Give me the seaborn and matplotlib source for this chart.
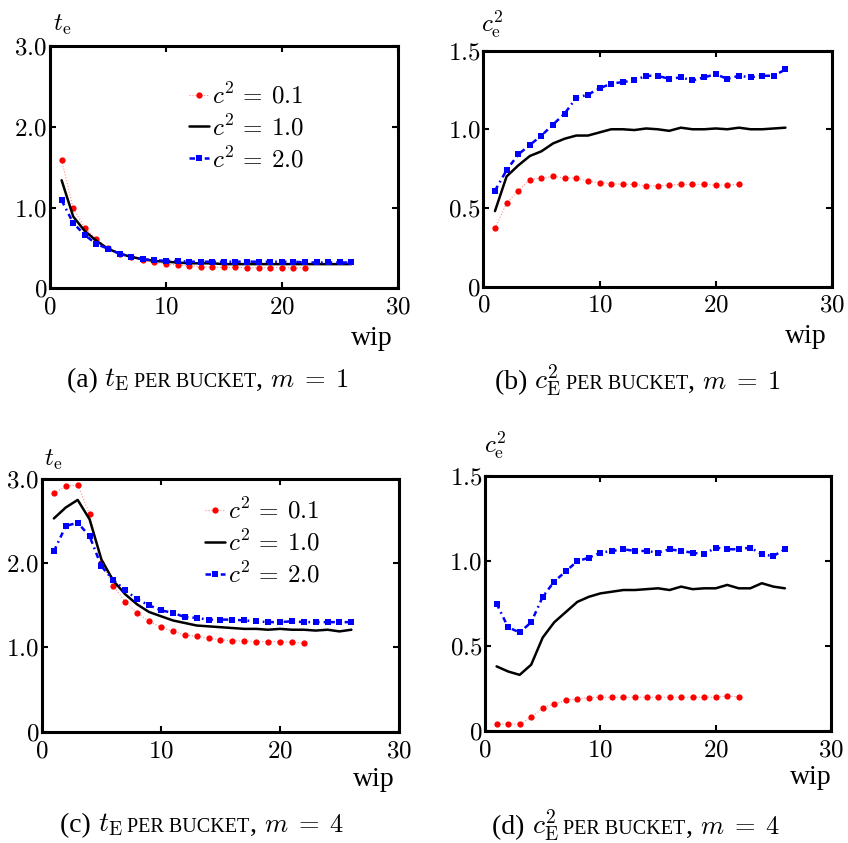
import numpy as np
import pandas as pd
import seaborn as sns
import matplotlib.pyplot as plt
from matplotlib.offsetbox import TextArea, HPacker, AnchoredOffsetbox

# ---- data ----
wip_short = list(range(1, 23))
wip_long = list(range(1, 27))

# (a) t_e, m = 1
te_m1_c01 = [1.59, 0.99, 0.75, 0.61, 0.50, 0.43, 0.39, 0.35, 0.32, 0.30, 0.29,
             0.28, 0.27, 0.26, 0.26, 0.26, 0.255, 0.255, 0.255, 0.255, 0.255, 0.255]
te_m1_c10 = [1.34, 0.89, 0.71, 0.59, 0.49, 0.43, 0.39, 0.36, 0.34, 0.33, 0.32, 0.31, 0.31,
             0.31, 0.30, 0.30, 0.30, 0.30, 0.30, 0.30, 0.30, 0.30, 0.30, 0.30, 0.30, 0.30]
te_m1_c20 = [1.09, 0.81, 0.66, 0.55, 0.49, 0.43, 0.39, 0.36, 0.35, 0.34, 0.34, 0.33, 0.33,
             0.33, 0.33, 0.33, 0.33, 0.33, 0.33, 0.33, 0.33, 0.32, 0.32, 0.32, 0.32, 0.32]

# (b) c_e^2, m = 1
ce_m1_c01 = [0.37, 0.53, 0.61, 0.68, 0.69, 0.70, 0.69, 0.69, 0.67, 0.66, 0.655,
             0.65, 0.65, 0.64, 0.64, 0.645, 0.65, 0.65, 0.65, 0.645, 0.645, 0.65]
ce_m1_c10 = [0.48, 0.70, 0.77, 0.83, 0.86, 0.91, 0.94, 0.96, 0.96, 0.98, 1.00, 1.00, 0.995,
             1.005, 1.00, 0.99, 1.01, 1.00, 1.00, 1.005, 1.00, 1.01, 1.00, 1.00, 1.005, 1.01]
ce_m1_c20 = [0.61, 0.74, 0.84, 0.90, 0.96, 1.03, 1.10, 1.20, 1.22, 1.26, 1.29, 1.30, 1.31,
             1.34, 1.34, 1.32, 1.33, 1.31, 1.33, 1.35, 1.32, 1.34, 1.33, 1.34, 1.34, 1.38]

# (c) t_e, m = 4
te_m4_c01 = [2.83, 2.91, 2.93, 2.58, 2.00, 1.73, 1.54, 1.41, 1.31, 1.24, 1.19,
             1.15, 1.13, 1.11, 1.09, 1.08, 1.075, 1.07, 1.07, 1.07, 1.06, 1.05]
te_m4_c10 = [2.53, 2.66, 2.75, 2.52, 2.04, 1.79, 1.63, 1.51, 1.42, 1.37, 1.32, 1.29, 1.26,
             1.25, 1.24, 1.23, 1.22, 1.22, 1.21, 1.22, 1.21, 1.21, 1.20, 1.21, 1.19, 1.21]
te_m4_c20 = [2.14, 2.44, 2.48, 2.32, 1.96, 1.80, 1.68, 1.57, 1.50, 1.44, 1.41, 1.36, 1.35,
             1.33, 1.33, 1.33, 1.32, 1.31, 1.30, 1.30, 1.31, 1.30, 1.30, 1.30, 1.30, 1.30]

# (d) c_e^2, m = 4
ce_m4_c01 = [0.04, 0.04, 0.04, 0.08, 0.135, 0.16, 0.18, 0.19, 0.195, 0.198, 0.198,
             0.198, 0.198, 0.198, 0.198, 0.198, 0.198, 0.198, 0.198, 0.198, 0.205, 0.20]
ce_m4_c10 = [0.38, 0.35, 0.33, 0.39, 0.55, 0.64, 0.70, 0.76, 0.79, 0.81, 0.82, 0.83, 0.83,
             0.835, 0.84, 0.83, 0.85, 0.835, 0.84, 0.84, 0.86, 0.84, 0.84, 0.87, 0.85, 0.84]
ce_m4_c20 = [0.75, 0.61, 0.58, 0.64, 0.79, 0.88, 0.94, 1.00, 1.02, 1.05, 1.06, 1.07, 1.06,
             1.06, 1.05, 1.07, 1.06, 1.05, 1.04, 1.08, 1.07, 1.07, 1.08, 1.04, 1.03, 1.07]

series_labels = [r"$c^2\,=\:0.1$", r"$c^2\,=\:1.0$", r"$c^2\,=\:2.0$"]
xticks = [0, 10, 20, 30]
xticklabels = ["$0$", "$10$", "$20$", "$30$"]
te_ticks = [0, 1, 2, 3]
te_ticklabels = ["$0$", "$1.0$", "$2.0$", "$3.0$"]
ce_ticks = [0, 0.5, 1.0, 1.5]
ce_ticklabels = ["$0$", "$0.5$", "$1.0$", "$1.5$"]

sns.set_style("ticks")
plt.rcParams['font.family'] = ['Liberation Serif', 'DejaVu Serif']
plt.rcParams['mathtext.fontset'] = 'cm'
plt.rcParams['text.color'] = 'black'
plt.rcParams['xtick.color'] = 'black'
plt.rcParams['ytick.color'] = 'black'
plt.rcParams['axes.edgecolor'] = 'black'

fig = plt.figure(figsize=(8.48, 8.43), dpi=100)

FS = 18


def draw_panel(rect, c01, c10, c20, yticks, yticklabels, ylabel, with_legend, leg_anchor,
               ylab_pos, wip_pos):
    ax = fig.add_axes(rect)
    sns.lineplot(x=wip_short, y=c01, ax=ax, color="red", linestyle=":", lw=0.8,
                 marker="o", markersize=4.5, markeredgewidth=0,
                 estimator=None, label=series_labels[0])
    ax.lines[-1].set_color((1.0, 0.55, 0.55))
    ax.lines[-1].set_markerfacecolor("red")
    sns.lineplot(x=wip_long, y=c10, ax=ax, color="black", linestyle="-", lw=1.8,
                 estimator=None, label=series_labels[1])
    sns.lineplot(x=wip_long, y=c20, ax=ax, color="blue", linestyle=(0, (2.2, 1.6, 0.7, 1.6)),
                 lw=1.8, marker="s", markersize=4.5, markeredgewidth=0,
                 estimator=None, label=series_labels[2])
    ax.set_xlim(0, 30)
    ax.set_ylim(yticks[0], yticks[-1])
    ax.set_xticks(xticks, xticklabels)
    ax.set_yticks(yticks, yticklabels)
    ax.tick_params(direction="in", length=4, width=1.5, top=True, right=True,
                   labelsize=FS)
    ax.tick_params(axis="x", pad=6)
    ax.tick_params(axis="y", pad=2)
    for s in ax.spines.values():
        s.set_linewidth(2.2)
        s.set_color("black")
    ax.set_xlabel("")
    ax.set_ylabel("")
    if with_legend:
        ax.legend(loc="upper left", bbox_to_anchor=leg_anchor, frameon=False,
                  fontsize=FS, handlelength=0.8, handletextpad=0.1, labelspacing=0.25,
                  borderpad=0, borderaxespad=0)
    else:
        ax.get_legend().remove()
    ax.text(ylab_pos[0], ylab_pos[1], ylabel, transform=ax.transAxes, fontsize=FS,
            ha="center", va="center")
    ax.text(wip_pos[0], wip_pos[1], "wip", transform=ax.transAxes, fontsize=20,
            ha="right", va="center")
    return ax


def caption(letter, sym, m, x, y):
    parts = [
        TextArea("(%s) " % letter, textprops=dict(fontsize=20)),
        TextArea(sym, textprops=dict(fontsize=20)),
        TextArea(" PER BUCKET", textprops=dict(fontsize=14.5)),
        TextArea(", ", textprops=dict(fontsize=20)),
        TextArea(r"$m\;=\;%d$" % m, textprops=dict(fontsize=19)),
    ]
    box = HPacker(children=parts, align="baseline", pad=0, sep=0)
    anch = AnchoredOffsetbox(loc="center", child=box, frameon=False, pad=0, borderpad=0,
                             bbox_to_anchor=(x, y), bbox_transform=fig.transFigure)
    fig.add_artist(anch)


draw_panel([0.059, 0.658, 0.410, 0.287], te_m1_c01, te_m1_c10, te_m1_c20,
           te_ticks, te_ticklabels, r"$t_{\mathrm{e}}$", True, (0.40, 0.85),
           (0.034, 1.087), (0.986, -0.207))
draw_panel([0.570, 0.660, 0.411, 0.280], ce_m1_c01, ce_m1_c10, ce_m1_c20,
           ce_ticks, ce_ticklabels, r"$c_{\mathrm{e}}^{2}$", False, None,
           (0.026, 1.11), (0.986, -0.21))
draw_panel([0.0495, 0.132, 0.421, 0.300], te_m4_c01, te_m4_c10, te_m4_c20,
           te_ticks, te_ticklabels, r"$t_{\mathrm{e}}$", True, (0.457, 0.925),
           (0.03, 1.075), (0.989, -0.19))
draw_panel([0.572, 0.133, 0.408, 0.302], ce_m4_c01, ce_m4_c10, ce_m4_c20,
           ce_ticks, ce_ticklabels, r"$c_{\mathrm{e}}^{2}$", False, None,
           (0.03, 1.12), (1.003, -0.185))

caption("a", r"$t_{\mathrm{E}}$", 1, 208 / 848, 1 - 380 / 843)
caption("b", r"$c_{\mathrm{E}}^{2}$", 1, 638 / 848, 1 - 380 / 843)
caption("c", r"$t_{\mathrm{E}}$", 4, 202 / 848, 1 - 825 / 843)
caption("d", r"$c_{\mathrm{E}}^{2}$", 4, 636 / 848, 1 - 825 / 843)

fig.savefig("out.png", dpi=100)
